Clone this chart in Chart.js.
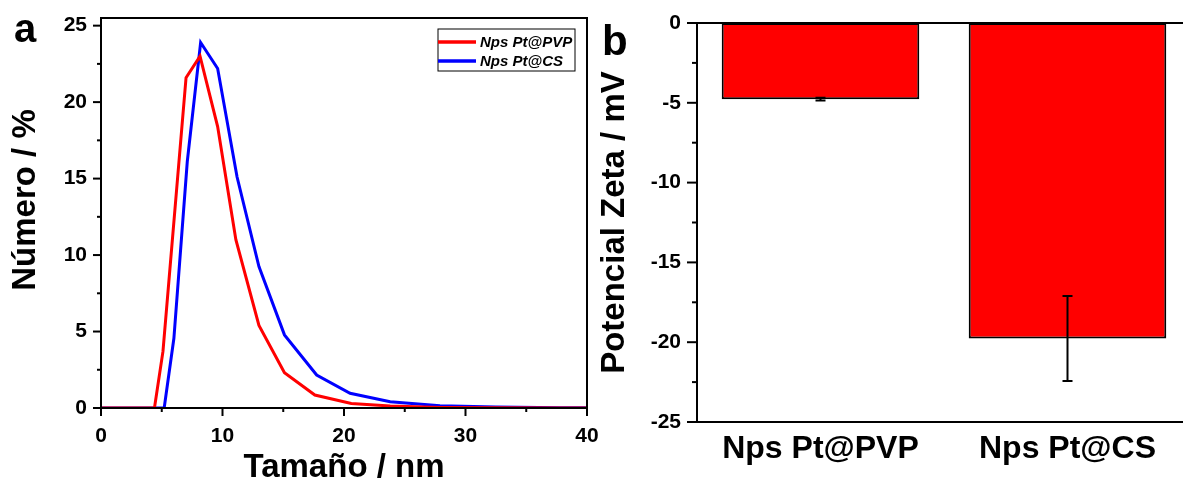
<!DOCTYPE html>
<html>
<head>
<meta charset="utf-8">
<script src="https://cdn.jsdelivr.net/npm/chart.js@4.4.1/dist/chart.umd.min.js"></script>
<style>
html,body{margin:0;padding:0;background:#fff;width:1183px;height:492px;overflow:hidden;position:relative;}
canvas{position:absolute;top:0;}
#ca{left:0;}
#cb{left:590px;}
</style>
</head>
<body>
<canvas id="ca" width="600" height="492"></canvas>
<canvas id="cb" width="612" height="492"></canvas>
<script>
// ---- data ----
const sizePVP = [0, 4.4, 5.1, 7.0, 8.15, 9.6, 11.1, 13.0, 15.1, 17.6, 20.6, 23.8, 27.9, 32.5, 37.8, 40];
const numPVP  = [0, 0, 3.7, 21.6, 23.0, 18.4, 11.0, 5.4, 2.3, 0.85, 0.3, 0.13, 0.04, 0.01, 0, 0];
const sizeCS  = [0, 5.2, 6.0, 7.1, 8.2, 9.6, 11.2, 13.0, 15.1, 17.75, 20.5, 23.8, 27.9, 32.5, 37.8, 40];
const numCS   = [0, 0, 4.56, 16.1, 23.9, 22.2, 15.1, 9.25, 4.78, 2.16, 0.96, 0.41, 0.15, 0.06, 0.02, 0.01];
const seriesNames = ['Nps Pt@PVP', 'Nps Pt@CS'];

const zetaCats = ['Nps Pt@PVP', 'Nps Pt@CS'];
const zetaVals = [-4.77, -19.77];
const zetaErr  = [0.08, 2.66];

const sizeMajorTicks = [0, 10, 20, 30, 40];
const numMajorTicks  = [0, 5, 10, 15, 20, 25];
const zetaMajorTicks = [0, -5, -10, -15, -20, -25];

// ---- helpers ----
const FF = '"Liberation Sans", Arial, Helvetica, sans-serif';
const tickFont = {family: FF, size: 21, weight: 'bold'};
const titleFont = {family: FF, size: 33, weight: 'bold', lineHeight: 1.2};

function fixBox(w, h) {
  return s => {
    if (w !== null) s.width = w;
    if (h !== null) s.height = h;
    s.paddingTop = 0; s.paddingBottom = 0; s.paddingLeft = 0; s.paddingRight = 0;
  };
}
const onlyStep = step => s => {
  s.ticks = s.ticks.filter(t => Math.abs(t.value / step - Math.round(t.value / step)) < 1e-6);
};

const frameTicks = {
  id: 'frameTicks',
  afterDraw(chart, args, opts) {
    const ctx = chart.ctx, a = chart.chartArea;
    ctx.save();
    ctx.strokeStyle = '#000';
    ctx.lineWidth = 2;
    ctx.strokeRect(a.left, a.top, a.right - a.left, a.bottom - a.top);
    (opts.axes || []).forEach(ax => {
      const s = chart.scales[ax.id];
      s.ticks.forEach(t => {
        const major = ax.major.includes(t.value);
        const len = major ? ax.majorLen : ax.minorLen;
        const p = s.getPixelForValue(t.value);
        ctx.beginPath();
        if (s.isHorizontal()) { ctx.moveTo(p, a.bottom); ctx.lineTo(p, a.bottom + len); }
        else { ctx.moveTo(a.left, p); ctx.lineTo(a.left - len, p); }
        ctx.stroke();
      });
    });
    ctx.fillStyle = '#000';
    if (opts.letter) {
      ctx.font = 'bold ' + opts.letter.size + 'px ' + FF;
      ctx.textBaseline = 'alphabetic';
      ctx.textAlign = 'left';
      ctx.fillText(opts.letter.text, opts.letter.x, opts.letter.y);
    }
    if (opts.yTitle) {
      ctx.save();
      ctx.translate(opts.yTitle.x, opts.yTitle.y);
      ctx.rotate(-Math.PI / 2);
      ctx.font = 'bold ' + opts.yTitle.size + 'px ' + FF;
      ctx.textAlign = 'center';
      ctx.textBaseline = 'middle';
      ctx.fillText(opts.yTitle.text, 0, 0);
      ctx.restore();
    }
    ctx.restore();
  }
};

const boxLegend = {
  id: 'boxLegend',
  afterDraw(chart, args, opts) {
    if (!opts.show) return;
    const ctx = chart.ctx;
    ctx.save();
    ctx.strokeStyle = '#000';
    ctx.lineWidth = 1;
    ctx.strokeRect(opts.x, opts.y, opts.w, opts.h);
    chart.data.datasets.forEach((ds, i) => {
      const y = opts.y + opts.firstRow + i * opts.rowGap;
      ctx.strokeStyle = ds.borderColor;
      ctx.lineWidth = 3.5;
      ctx.beginPath();
      ctx.moveTo(opts.x, y); ctx.lineTo(opts.x + opts.lineLen, y);
      ctx.stroke();
      ctx.fillStyle = '#000';
      ctx.font = 'italic bold 15px ' + FF;
      ctx.textBaseline = 'middle';
      ctx.fillText(ds.label, opts.x + opts.lineLen + 4, y + 1);
    });
    ctx.restore();
  }
};

const errorBars = {
  id: 'errorBars',
  afterDatasetsDraw(chart, args, opts) {
    if (!opts.errors) return;
    const ctx = chart.ctx, meta = chart.getDatasetMeta(0), ys = chart.scales.y;
    ctx.save();
    ctx.strokeStyle = '#000';
    ctx.lineWidth = 2;
    meta.data.forEach((bar, i) => {
      const v = chart.data.datasets[0].data[i], e = opts.errors[i];
      const yTop = ys.getPixelForValue(v + e), yBot = ys.getPixelForValue(v - e);
      const x = bar.x;
      ctx.beginPath();
      ctx.moveTo(x, yTop); ctx.lineTo(x, yBot);
      ctx.moveTo(x - 5, yTop); ctx.lineTo(x + 5, yTop);
      ctx.moveTo(x - 5, yBot); ctx.lineTo(x + 5, yBot);
      ctx.stroke();
    });
    ctx.restore();
  }
};

const noGrid = {display: false, drawTicks: false};

// ---- chart a ----
new Chart(document.getElementById('ca'), {
  type: 'line',
  data: {
    datasets: [
      {label: seriesNames[0], data: sizePVP.map((x, i) => ({x, y: numPVP[i]})), borderColor: '#ff0000', borderWidth: 3, pointRadius: 0, tension: 0, fill: false},
      {label: seriesNames[1], data: sizeCS.map((x, i) => ({x, y: numCS[i]})), borderColor: '#0000ff', borderWidth: 3, pointRadius: 0, tension: 0, fill: false}
    ]
  },
  options: {
    responsive: false, animation: false, devicePixelRatio: 1,
    layout: {padding: {left: 0, top: 18, right: 13, bottom: 0}},
    plugins: {
      legend: {display: false}, tooltip: {enabled: false},
      frameTicks: {axes: [{id: 'x', major: sizeMajorTicks, majorLen: 8, minorLen: 4}, {id: 'y', major: numMajorTicks, majorLen: 8, minorLen: 4}],
                   letter: {text: 'a', x: 14, y: 42, size: 40},
                   yTitle: {text: 'Número / %', x: 26, y: 200, size: 33}},
      boxLegend: {show: true, x: 438, y: 29, w: 137, h: 42, firstRow: 13, rowGap: 19, lineLen: 38}
    },
    scales: {
      x: {
        type: 'linear', min: 0, max: 40,
        afterBuildTicks: onlyStep(5),
        afterFit: fixBox(null, 84),
        grid: noGrid, border: {display: false},
        ticks: {stepSize: 5, includeBounds: false, font: tickFont, color: '#000', padding: 16, maxRotation: 0,
                callback: v => sizeMajorTicks.includes(v) ? String(v) : ''},
        title: {display: true, text: 'Tamaño / nm', font: titleFont, color: '#000', padding: {top: 0, bottom: 4}}
      },
      y: {
        type: 'linear', min: 0, max: 25.5,
        afterBuildTicks: onlyStep(2.5),
        afterFit: fixBox(101, null),
        grid: noGrid, border: {display: false},
        ticks: {stepSize: 2.5, includeBounds: false, font: tickFont, color: '#000', padding: 14,
                callback: v => numMajorTicks.includes(v) ? String(v) : ''}
      }
    }
  },
  plugins: [frameTicks, boxLegend]
});

// ---- chart b ----
new Chart(document.getElementById('cb'), {
  type: 'bar',
  data: {
    labels: zetaCats,
    datasets: [{data: zetaVals, backgroundColor: '#ff0000', borderColor: '#000', borderWidth: 2, borderSkipped: false,
                barPercentage: 0.8, categoryPercentage: 1.0}]
  },
  options: {
    responsive: false, animation: false, devicePixelRatio: 1,
    layout: {padding: {left: 0, top: 23, right: 11, bottom: 0}},
    plugins: {
      legend: {display: false}, tooltip: {enabled: false},
      frameTicks: {axes: [{id: 'y', major: zetaMajorTicks, majorLen: 10, minorLen: 5}],
                   letter: {text: 'b', x: 12, y: 55, size: 42}},
      errorBars: {errors: zetaErr}
    },
    scales: {
      x: {
        afterFit: fixBox(null, 70),
        grid: noGrid, border: {display: false},
        ticks: {font: {family: FF, size: 32, weight: 'bold'}, color: '#000', padding: 8, maxRotation: 0}
      },
      y: {
        type: 'linear', min: -25, max: 0,
        afterBuildTicks: onlyStep(2.5),
        afterFit: fixBox(107, null),
        grid: noGrid, border: {display: false},
        ticks: {stepSize: 2.5, font: tickFont, color: '#000', padding: 16,
                callback: v => zetaMajorTicks.includes(v) ? String(v) : ''},
        title: {display: true, text: 'Potencial Zeta / mV', font: titleFont, color: '#000', padding: {top: 5, bottom: 0}}
      }
    }
  },
  plugins: [frameTicks, errorBars]
});
</script>
</body>
</html>
